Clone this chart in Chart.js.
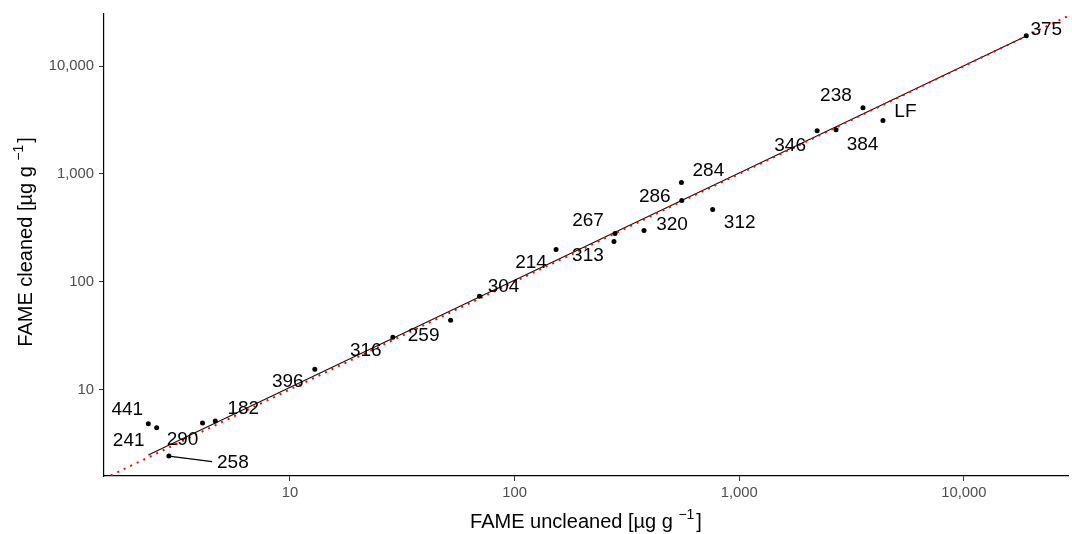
<!DOCTYPE html>
<html>
<head>
<meta charset="utf-8">
<title>FAME cleaned vs uncleaned</title>
<script src="https://cdn.jsdelivr.net/npm/chart.js@4.4.1/dist/chart.umd.min.js"></script>
<style>
  html, body { margin: 0; padding: 0; background: #fff; }
  #wrap { width: 1072px; height: 534px; }
</style>
</head>
<body>
<div id="wrap"><canvas id="fame" width="1072" height="534"></canvas></div>
<script>
// sample ids and values
const sampleIds = ['441', '241', '290', '182', '258', '396', '316', '259', '304', '214', '313',
                   '267', '320', '286', '284', '312', '346', '384', '238', 'LF', '375'];
const uncleaned = [2.34, 2.55, 4.08, 4.65, 2.89, 12.9, 28.7, 51.9, 69.8, 153, 277,
                   280, 377, 555, 553, 762, 2223, 2699, 3557, 4365, 18970];
const cleaned = [4.80, 4.41, 4.88, 5.09, 2.41, 15.4, 30.5, 43.9, 73.1, 199, 236,
                 280, 298, 566, 830, 467, 2518, 2570, 4111, 3119, 19100];

// fitted line (ends) and 1:1 reference line
const fitX = [2.34, 18970];
const fitY = [2.47, 19050];
const oneToOne = [1, 100000];

// axis ticks
const tickValues = [10, 100, 1000, 10000];

// axis titles: [text, superscript, tail]
const xTitle = ['FAME uncleaned [µg g ', '\u22121', ']'];
const yTitle = ['FAME cleaned [µg g ', '\u22121', ']'];

// label nudges in px (like ggrepel placement)
const labelNudge = [
  [-21, -14], [-28, 13], [-20, 17], [28, -12], [64, 6.5], [-27, 13], [-27, 13.5],
  [-27, 15.5], [24, -10], [-25, 13], [-26, 14.5], [-27, -12.5], [28, -5.5], [-27, -4],
  [27, -12], [27, 13.5], [-27, 15], [26.5, 15.5], [-27, -12], [22.5, -8.5], [20, -6]
];

const FONT = "'Liberation Sans', Arial, sans-serif";

// draw the point labels + repel segments
const pointLabels = {
  id: 'pointLabels',
  afterDatasetsDraw(chart) {
    const ctx = chart.ctx;
    const xs = chart.scales.x, ys = chart.scales.y;
    ctx.save();
    ctx.font = '19px ' + FONT;
    ctx.fillStyle = '#000';
    ctx.textAlign = 'center';
    ctx.textBaseline = 'middle';
    sampleIds.forEach((id, i) => {
      const px = xs.getPixelForValue(uncleaned[i]);
      const py = ys.getPixelForValue(cleaned[i]);
      const [dx, dy] = labelNudge[i];
      const lx = px + dx, ly = py + dy;
      if (Math.hypot(dx, dy) > 40) {
        const w = ctx.measureText(id).width;
        ctx.strokeStyle = '#000';
        ctx.lineWidth = 1.3;
        ctx.beginPath();
        ctx.moveTo(px, py);
        ctx.lineTo(lx - w / 2 - 5, ly - 1);
        ctx.stroke();
      }
      ctx.fillText(id, lx, ly);
    });
    ctx.restore();
  }
};

// axis titles with a real superscript
function drawTitle(ctx, parts, cx, cy, angle) {
  const [main, sup, tail] = parts;
  const big = '20px ' + FONT, small = '14px ' + FONT;
  ctx.font = big;
  const w1 = ctx.measureText(main).width;
  const w3 = ctx.measureText(tail).width;
  ctx.font = small;
  const w2 = ctx.measureText(sup).width + 2;
  const total = w1 + w2 + w3;
  ctx.save();
  ctx.translate(cx, cy);
  ctx.rotate(angle);
  ctx.fillStyle = '#000';
  ctx.textBaseline = 'alphabetic';
  ctx.textAlign = 'left';
  let x = -total / 2;
  const base = 7;
  ctx.font = big;
  ctx.fillText(main, x, base);
  x += w1;
  ctx.font = small;
  ctx.fillText(sup, x, base - 9);
  x += w2;
  ctx.font = big;
  ctx.fillText(tail, x, base);
  ctx.restore();
}

const axisTitles = {
  id: 'axisTitles',
  afterDraw(chart) {
    const a = chart.chartArea;
    drawTitle(chart.ctx, xTitle, (a.left + a.right) / 2, 521, 0);
    drawTitle(chart.ctx, yTitle, 25, (a.top + a.bottom) / 2 - 3, -Math.PI / 2);
  }
};

function axisOpts(min, max, isX) {
  return {
    type: 'logarithmic',
    min, max,
    afterBuildTicks: s => { s.ticks = tickValues.map(v => ({ value: v })); },
    afterFit: s => { if (isX) s.height = 58; else s.width = 104; },
    ticks: {
      autoSkip: false,
      maxRotation: 0,
      color: '#4d4d4d',
      padding: isX ? 3 : 5,
      font: { family: FONT, size: 14.8 },
      callback: v => Number(v).toLocaleString('en-US')
    },
    grid: { display: true, drawOnChartArea: false, drawTicks: true, tickLength: 5, tickColor: '#333', tickWidth: 1 },
    border: { display: true, color: '#000', width: 1.2 },
    title: { display: false }
  };
}

new Chart(document.getElementById('fame'), {
  type: 'scatter',
  data: {
    datasets: [
      {
        label: 'samples',
        data: uncleaned.map((x, i) => ({ x, y: cleaned[i] })),
        backgroundColor: '#000',
        borderColor: '#000',
        pointRadius: 2.5,
        pointBorderWidth: 0,
        order: 0
      },
      {
        type: 'line',
        label: '1:1',
        data: oneToOne.map(v => ({ x: v, y: v })),
        borderColor: '#ff0000',
        borderWidth: 2,
        borderDash: [2, 5.2],
        pointRadius: 0,
        fill: false,
        order: 1
      },
      {
        type: 'line',
        label: 'fit',
        data: fitX.map((x, i) => ({ x, y: fitY[i] })),
        borderColor: '#111',
        borderWidth: 1.1,
        pointRadius: 0,
        fill: false,
        order: 2
      }
    ]
  },
  options: {
    responsive: false,
    animation: false,
    layout: { padding: { left: 0, right: 0, top: 13, bottom: 0 } },
    plugins: { legend: { display: false }, tooltip: { enabled: false } },
    scales: {
      x: axisOpts(1.486, 29100, true),
      y: axisOpts(1.574, 30500, false)
    }
  },
  plugins: [pointLabels, axisTitles]
});
</script>
</body>
</html>
